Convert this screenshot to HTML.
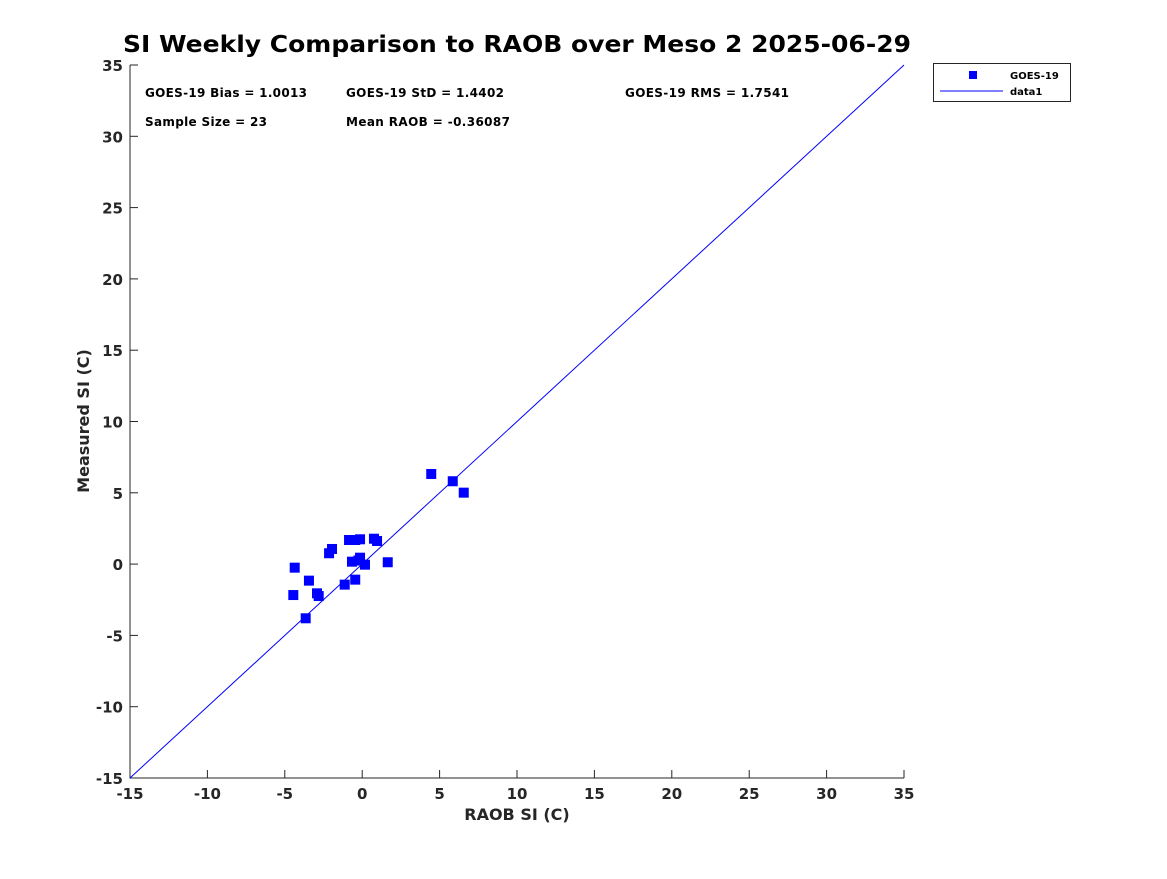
<!DOCTYPE html>
<html><head><meta charset="utf-8"><style>
body{margin:0;background:#fff;width:1167px;height:875px;overflow:hidden;font-family:"DejaVu Sans",sans-serif}
</style></head><body>
<svg id="chart" width="1167" height="875" xmlns="http://www.w3.org/2000/svg" font-family="DejaVu Sans, sans-serif">
<text x="517" y="52" text-anchor="middle" font-size="23" font-weight="bold" fill="#000" textLength="788" lengthAdjust="spacingAndGlyphs">SI Weekly Comparison to RAOB over Meso 2 2025-06-29</text>
<g id="plot"></g>
<g font-size="12" font-weight="bold" fill="#000">
<text x="145" y="97" textLength="162">GOES-19 Bias = 1.0013</text>
<text x="346" y="97" textLength="158">GOES-19 StD = 1.4402</text>
<text x="625" y="97" textLength="164">GOES-19 RMS = 1.7541</text>
<text x="145" y="126" textLength="122">Sample Size = 23</text>
<text x="346" y="126" textLength="164">Mean RAOB = -0.36087</text>
</g>
<text x="517" y="820" text-anchor="middle" font-size="16" font-weight="bold" fill="#262626">RAOB SI (C)</text>
<text transform="translate(89,421) rotate(-90)" text-anchor="middle" font-size="16" font-weight="bold" fill="#262626">Measured SI (C)</text>
<g>
<rect x="933.5" y="63.5" width="137" height="38" fill="#fff" stroke="#262626" stroke-width="1"/>
<rect x="969" y="71" width="8" height="8" fill="#0000ff"/>
<text x="1010" y="79" font-size="10" font-weight="bold">GOES-19</text>
<line x1="940" y1="91" x2="1003" y2="91" stroke="#0000ff"/>
<text x="1010" y="95" font-size="10" font-weight="bold">data1</text>
</g>
</svg>
<script>
const xTicks=[-15,-10,-5,0,5,10,15,20,25,30,35];
const yTicks=[-15,-10,-5,0,5,10,15,20,25,30,35];
const raobX=[4.46,5.85,6.56,-0.85,-0.45,-0.14,0.76,0.96,-1.95,-2.14,-0.66,-0.14,0.18,1.65,-0.25,-4.36,-3.44,-0.45,-1.13,-4.45,-2.92,-2.81,-3.65];
const measY=[6.32,5.81,5.01,1.69,1.69,1.74,1.78,1.62,1.06,0.76,0.17,0.45,-0.04,0.13,0.25,-0.25,-1.16,-1.09,-1.44,-2.17,-2.05,-2.24,-3.80];
const X0=130,X1=904,Y0=778,Y1=65;
const sx=v=>X0+(v+15)/50*(X1-X0);
const sy=v=>Y0-(v+15)/50*(Y0-Y1);
const NS="http://www.w3.org/2000/svg";
const g=document.getElementById('plot');
function mk(t,a){const e=document.createElementNS(NS,t);for(const k in a)e.setAttribute(k,a[k]);g.appendChild(e);return e;}
const ax=mk('path',{d:`M${X0} ${Y1}V${Y0}H${X1}`,fill:'none',stroke:'#262626','stroke-width':1});


xTicks.forEach(t=>{
 const x=sx(t);
 const l=mk('line',{x1:x,y1:Y0,x2:x,y2:Y0-8,stroke:'#262626'});
 
 
 const tx=mk('text',{x:x,y:Y0+21,'text-anchor':'middle','font-size':15,'font-weight':'bold',fill:'#262626'});
 tx.textContent=t;
 
 
});
yTicks.forEach(t=>{
 const y=sy(t);
 const l=mk('line',{x1:X0,y1:y,x2:X0+8,y2:y,stroke:'#262626'});
 
 
 const tx=mk('text',{x:X0-7,y:y+6,'text-anchor':'end','font-size':15,'font-weight':'bold',fill:'#262626'});
 tx.textContent=t;
 
 
});
const ref=mk('line',{x1:sx(-15),y1:sy(-15),x2:sx(35),y2:sy(35),stroke:'#0000ff','stroke-width':1});


raobX.forEach((v,i)=>{
 const r=mk('rect',{x:sx(v)-5,y:sy(measY[i])-5,width:10,height:10,fill:'#0000ff'});
 
 
});
</script>
</body></html>
